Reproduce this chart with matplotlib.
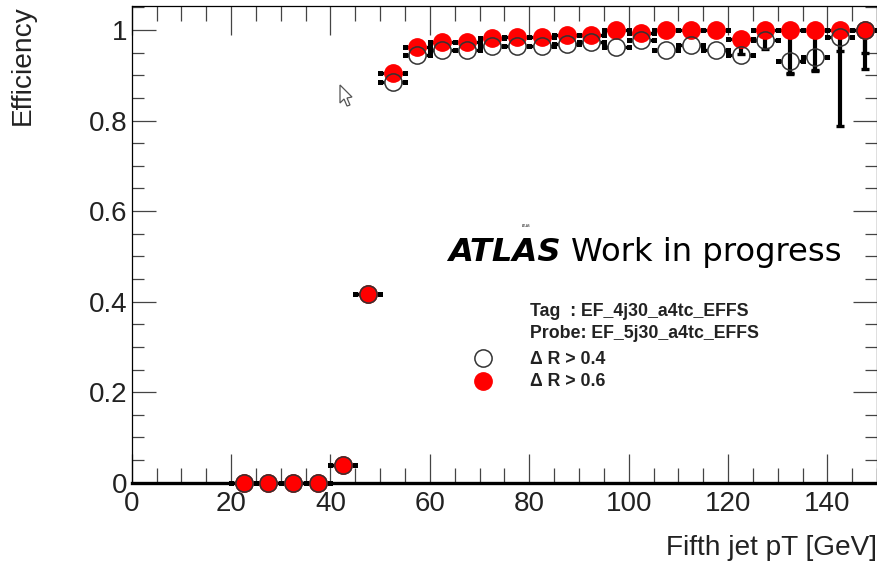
import matplotlib
matplotlib.use("Agg")
import matplotlib.pyplot as plt
import numpy as np
from matplotlib.patches import Polygon
from matplotlib.ticker import MultipleLocator

# bin centres (5 GeV bins)
pt = [22.5, 27.5, 32.5, 37.5, 42.5, 47.5, 52.5, 57.5, 62.5, 67.5, 72.5, 77.5,
      82.5, 87.5, 92.5, 97.5, 102.5, 107.5, 112.5, 117.5, 122.5, 127.5, 132.5,
      137.5, 142.5, 147.5]
pt_halfwidth = [2.5] * len(pt)

eff_dr04 = [0, 0, 0, 0, 0.04, 0.417, 0.886, 0.945, 0.956, 0.956, 0.964, 0.964,
            0.964, 0.970, 0.974, 0.962, 0.979, 0.956, 0.966, 0.956, 0.945,
            0.977, 0.932, 0.941, 0.984, 1.0]
err_dr04 = [0, 0, 0, 0, 0.004, 0.006, 0.006, 0.005, 0.005, 0.005, 0.005, 0.005,
            0.005, 0.005, 0.005, 0.006, 0.005, 0.006, 0.006, 0.008, 0.012,
            0.012, 0.03, 0.03, 0.03, 0.05]

eff_dr06 = [0, 0, 0, 0, 0.04, 0.417, 0.904, 0.9625, 0.973, 0.974, 0.982, 0.985,
            0.985, 0.990, 0.990, 1.0, 0.994, 1.0, 1.0, 1.0, 0.981, 1.0, 1.0,
            1.0, 1.0, 1.0]
err_dr06 = [0, 0, 0, 0, 0.004, 0.006, 0.005, 0.004, 0.004, 0.004, 0.004, 0.004,
            0.004, 0.004, 0.004, 0.003, 0.004, 0.003, 0.003, 0.003, 0.033,
            0.042, 0.095, 0.091, 0.212, 0.087]

WIDTH, HEIGHT = 878, 567
MARKER_R_X = 1.75   # marker radius in GeV
MARKER_R_Y = 0.019  # marker radius in efficiency units

fig = plt.figure(figsize=(WIDTH / 100, HEIGHT / 100), dpi=100)
ax = fig.add_axes([131.7 / WIDTH, 1 - 482.7 / HEIGHT, 745.5 / WIDTH, 476.7 / HEIGHT])
ax.set_xlim(0, 150)
ax.set_ylim(0, 1.053)


def draw_series(eff, err, face, z):
    # ROOT style: error bars stop at the edge of the marker
    x = np.array(pt)
    w = np.array(pt_halfwidth)
    y = np.array(eff)
    e = np.array(err)
    ax.hlines(y, x - w, x - MARKER_R_X, color="black", lw=2.4, zorder=2)
    ax.hlines(y, x + MARKER_R_X, x + w, color="black", lw=2.4, zorder=2)
    ax.plot(np.r_[x - w, x + w], np.r_[y, y], "s", ms=3.6, color="black", mew=0, zorder=2,
            clip_on=False)
    big = e > MARKER_R_Y
    ax.vlines(x[big], y[big] - e[big], y[big] - MARKER_R_Y, color="black", lw=3, zorder=2)
    ax.plot(x[big], y[big] - e[big], "_", ms=5.5, mew=2.4, color="black", zorder=2)
    ax.plot(pt, eff, "o", ms=12.4, mfc=face, mec="red" if face == "red" else "#333333",
            mew=1.1, zorder=z, clip_on=False)


draw_series(eff_dr06, err_dr06, "red", 3)
draw_series(eff_dr04, err_dr04, "none", 4)

ax.xaxis.set_minor_locator(MultipleLocator(5))
ax.yaxis.set_minor_locator(MultipleLocator(0.05))
ax.set_xticks([0, 20, 40, 60, 80, 100, 120, 140])
ax.set_yticks([0, 0.2, 0.4, 0.6, 0.8, 1.0])
ax.set_yticklabels(["0", "0.2", "0.4", "0.6", "0.8", "1"])
ax.tick_params(which="both", direction="in", width=0.9, top=True, right=True, color="#444444")
ax.tick_params(axis="x", which="major", length=21, pad=6, labelsize=20, labelcolor="#222222")
ax.tick_params(axis="x", which="minor", length=10.5)
ax.tick_params(axis="y", which="major", length=17, pad=3, labelsize=20, labelcolor="#222222")
ax.tick_params(axis="y", which="minor", length=8.5)
for label in ax.get_xticklabels() + ax.get_yticklabels():
    label.set_family("Liberation Sans")
for name, spine in ax.spines.items():
    spine.set_linewidth(0.9)
ax.spines["bottom"].set_linewidth(2.4)

fig.text(877 / WIDTH, 1 - 548 / HEIGHT, "Fifth jet pT [GeV]", ha="right", va="center",
         fontsize=20.2, family="Liberation Sans", color="#222222")
fig.text(23 / WIDTH, 1 - 5 / HEIGHT, "Efficiency", ha="center", va="top", rotation=90,
         fontsize=20.2, family="Liberation Sans", color="#222222")

fig.text(448 / WIDTH, 1 - 253 / HEIGHT, "ATLAS", fontsize=23.2, fontweight="bold",
         fontstyle="italic", family="DejaVu Sans", va="center")
fig.text(571 / WIDTH, 1 - 253 / HEIGHT, "Work in progress", fontsize=23.2,
         family="DejaVu Sans", va="center")
fig.text(522 / WIDTH, 1 - 226 / HEIGHT, "ATLAS", fontsize=2, family="DejaVu Sans", va="center")

for y, s in [(312, "Tag  : EF_4j30_a4tc_EFFS"), (334, "Probe: EF_5j30_a4tc_EFFS"),
             (360, "\u0394 R > 0.4"), (382, "\u0394 R > 0.6")]:
    fig.text(530 / WIDTH, 1 - y / HEIGHT, s, fontsize=12.8, fontweight="bold",
             family="Liberation Sans", va="center", color="#222222")

# legend markers
ax.plot([70.7], [0.2756], "o", ms=12.4, mfc="white", mec="#333333", mew=1.1, zorder=5)
ax.plot([70.7], [0.2247], "o", ms=12.4, mfc="red", mec="red", mew=1.1, zorder=5)

# stray mouse cursor in the screenshot
cursor = [(340, 85), (340, 103), (344, 99), (347, 106), (350, 105), (347, 98), (352, 97)]
fig.add_artist(Polygon([(x / WIDTH, 1 - y / HEIGHT) for x, y in cursor], closed=True,
                       transform=fig.transFigure, fc="white", ec="#555555", lw=0.9))

fig.savefig("out.png", dpi=100)
